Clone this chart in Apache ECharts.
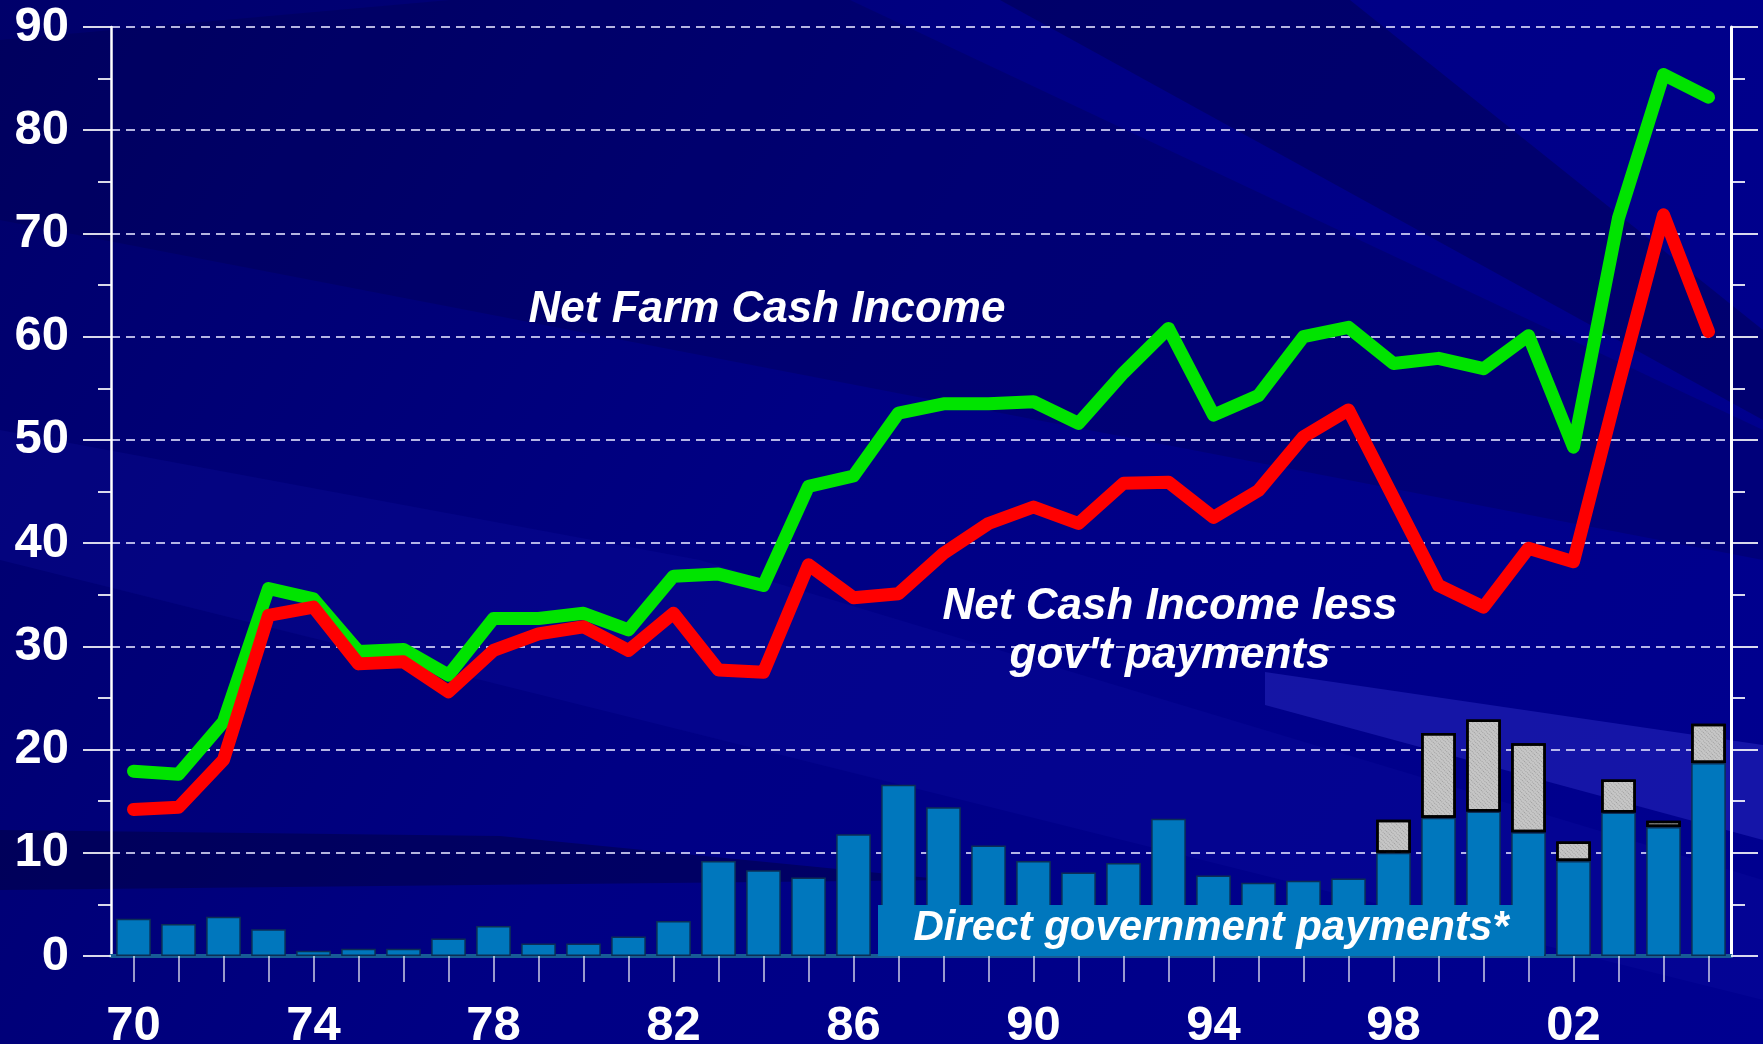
<!DOCTYPE html>
<html>
<head>
<meta charset="utf-8">
<title>Net Farm Cash Income</title>
<script src="https://cdn.jsdelivr.net/npm/echarts@6/dist/echarts.min.js"></script>
<style>
    html, body { margin: 0; padding: 0; background: #000080; }
    #chart { width: 1763px; height: 1044px; }
</style>
</head>
<body>
<div id="chart"></div>
<script>
    // years 1970 - 2005
    var years = ['70', '71', '72', '73', '74', '75', '76', '77', '78', '79',
        '80', '81', '82', '83', '84', '85', '86', '87', '88', '89',
        '90', '91', '92', '93', '94', '95', '96', '97', '98', '99',
        '00', '01', '02', '03', '04', '05'];

    // Net Farm Cash Income (green)
    var netCashIncome = [17.9, 17.6, 22.7, 35.6, 34.6, 29.5, 29.7, 27.2, 32.7, 32.7,
        33.2, 31.6, 36.8, 37.0, 35.9, 45.5, 46.5, 52.6, 53.5, 53.5,
        53.7, 51.6, 56.5, 60.8, 52.4, 54.3, 60.0, 60.9, 57.4, 57.9,
        56.9, 60.1, 49.3, 71.5, 85.4, 83.2];

    // Net Cash Income less gov't payments (red)
    var lessGovPayments = [14.2, 14.4, 19.0, 33.0, 33.8, 28.3, 28.5, 25.6, 29.6, 31.2,
        31.9, 29.6, 33.2, 27.7, 27.5, 37.9, 34.7, 35.1, 39.0, 41.9,
        43.5, 41.9, 45.8, 45.9, 42.5, 45.1, 50.3, 52.9, 44.4, 35.9,
        33.8, 39.5, 38.2, 55.3, 71.8, 60.5];

    // Direct government payments (blue part of the bars)
    var directPayments = [3.6, 3.1, 3.8, 2.6, 0.5, 0.7, 0.7, 1.7, 2.9, 1.2,
        1.2, 1.9, 3.4, 9.2, 8.3, 7.6, 11.8, 16.6, 14.4, 10.7,
        9.2, 8.1, 9.0, 13.3, 7.8, 7.1, 7.3, 7.5, 10.0, 13.4,
        14.0, 12.0, 9.2, 13.9, 12.5, 18.7];

    // grey hatched part on top (1998 on)
    var extraPayments = [null, null, null, null, null, null, null, null, null, null,
        null, null, null, null, null, null, null, null, null, null,
        null, null, null, null, null, null, null, null, 3.2, 8.2,
        8.9, 8.6, 1.9, 3.2, 0.6, 3.8];

    var yTicks = [0, 90, 10]; // min, max, interval

    var FONT = '"Liberation Sans", Arial, sans-serif';
    var gridColor = 'rgba(225,225,255,0.8)';

    var chart = echarts.init(document.getElementById('chart'));

    var option = {
        backgroundColor: {
            type: 'linear', x: 0, y: 0, x2: 1, y2: 1,
            colorStops: [
                {offset: 0, color: '#00006a'},
                {offset: 0.45, color: '#000084'},
                {offset: 1, color: '#000090'}
            ]
        },
        animation: false,
        grid: {left: 111, right: 32, top: 27, bottom: 88, containLabel: false, outerBoundsMode: 'none'},
        xAxis: {
            type: 'category',
            data: years,
            boundaryGap: true,
            axisLine: {lineStyle: {color: '#175c95', width: 4}},
            axisTick: {
                show: true, interval: 0, alignWithLabel: true, length: 26,
                lineStyle: {color: 'rgba(255,255,255,0.8)', width: 1.5}
            },
            axisLabel: {
                interval: 3,
                margin: 46,
                color: '#fff',
                fontSize: 49,
                fontWeight: 'bold',
                fontFamily: FONT
            },
            splitLine: {show: false}
        },
        yAxis: [
            {
                type: 'value',
                min: yTicks[0], max: yTicks[1], interval: yTicks[2],
                axisLine: {show: true, lineStyle: {color: '#fff', width: 2.5}},
                axisTick: {show: true, length: 28, lineStyle: {color: 'rgba(255,255,255,0.85)', width: 2}},
                minorTick: {show: true, splitNumber: 2, length: 13, lineStyle: {color: 'rgba(255,255,255,0.85)', width: 2}},
                axisLabel: {
                    margin: 42,
                    color: '#fff',
                    fontSize: 49,
                    fontWeight: 'bold',
                    fontFamily: FONT
                },
                splitLine: {show: true, lineStyle: {color: gridColor, width: 2, type: [9, 6]}}
            },
            {
                type: 'value',
                position: 'right',
                min: yTicks[0], max: yTicks[1], interval: yTicks[2],
                axisLine: {show: true, lineStyle: {color: '#fff', width: 3}},
                axisTick: {show: true, length: 27, lineStyle: {color: 'rgba(255,255,255,0.85)', width: 2}},
                minorTick: {show: true, splitNumber: 2, length: 14, lineStyle: {color: 'rgba(255,255,255,0.85)', width: 2}},
                axisLabel: {show: false},
                splitLine: {show: false}
            }
        ],
        series: [
            {
                name: 'Direct government payments',
                type: 'bar',
                stack: 'pay',
                barCategoryGap: '23%',
                itemStyle: {color: '#0077bd', borderColor: '#0b2f55', borderWidth: 1.5},
                data: directPayments
            },
            {
                name: 'Emergency payments',
                type: 'bar',
                stack: 'pay',
                itemStyle: {
                    color: '#c6c6c6',
                    borderColor: '#000',
                    borderWidth: 2.5,
                    decal: {
                        symbol: 'rect',
                        symbolSize: 1,
                        color: 'rgba(110,110,110,0.45)',
                        dashArrayX: [1, 1],
                        dashArrayY: [1, 2],
                        rotation: Math.PI / 4
                    }
                },
                data: extraPayments
            },
            {
                name: 'Net Farm Cash Income',
                type: 'line',
                z: 5,
                symbol: 'none',
                lineStyle: {color: '#00e400', width: 13, cap: 'round', join: 'round'},
                data: netCashIncome
            },
            {
                name: "Net Cash Income less gov't payments",
                type: 'line',
                z: 6,
                symbol: 'none',
                lineStyle: {color: '#ff0000', width: 13, cap: 'round', join: 'round'},
                data: lessGovPayments
            }
        ],
        graphic: [
            // background streaks
            {
                type: 'polygon', z: -10, silent: true,
                shape: {points: [[0, 40], [450, 0], [850, 0], [1763, 430], [1763, 560], [0, 220]]},
                style: {fill: 'rgba(0,0,50,0.20)'}
            },
            {
                type: 'polygon', z: -10, silent: true,
                shape: {points: [[0, 430], [700, 560], [1763, 880], [1763, 1000], [0, 560]]},
                style: {fill: 'rgba(20,20,170,0.22)'}
            },
            {
                type: 'polygon', z: -10, silent: true,
                shape: {points: [[0, 830], [500, 836], [950, 880], [0, 890]]},
                style: {fill: 'rgba(0,0,50,0.40)'}
            },
            {
                type: 'polygon', z: -10, silent: true,
                shape: {points: [[1265, 672], [1763, 745], [1763, 840], [1265, 705]]},
                style: {fill: 'rgba(70,70,230,0.30)'}
            },
            {
                type: 'polygon', z: -10, silent: true,
                shape: {points: [[1000, 0], [1350, 0], [1763, 330], [1763, 420]]},
                style: {fill: 'rgba(0,0,40,0.28)'}
            },
            // label box over the bars
            {
                type: 'rect', z: 3, silent: true,
                shape: {x: 878, y: 905, width: 666, height: 51},
                style: {fill: '#0077bd'}
            },
            {
                type: 'text', z: 4, silent: true,
                style: {
                    text: 'Direct government payments*',
                    x: 1211, y: 928,
                    fill: '#fff',
                    font: 'italic bold 42px ' + FONT,
                    textAlign: 'center', textVerticalAlign: 'middle'
                }
            },
            {
                type: 'text', z: 4, silent: true,
                style: {
                    text: 'Net Farm Cash Income',
                    x: 767, y: 310,
                    fill: '#fff',
                    font: 'italic bold 44px ' + FONT,
                    textAlign: 'center', textVerticalAlign: 'middle'
                }
            },
            {
                type: 'text', z: 4, silent: true,
                style: {
                    text: 'Net Cash Income less',
                    x: 1170, y: 607,
                    fill: '#fff',
                    font: 'italic bold 44px ' + FONT,
                    textAlign: 'center', textVerticalAlign: 'middle'
                }
            },
            {
                type: 'text', z: 4, silent: true,
                style: {
                    text: "gov't payments",
                    x: 1170, y: 656,
                    fill: '#fff',
                    font: 'italic bold 44px ' + FONT,
                    textAlign: 'center', textVerticalAlign: 'middle'
                }
            }
        ]
    };

    chart.setOption(option);
</script>
</body>
</html>
